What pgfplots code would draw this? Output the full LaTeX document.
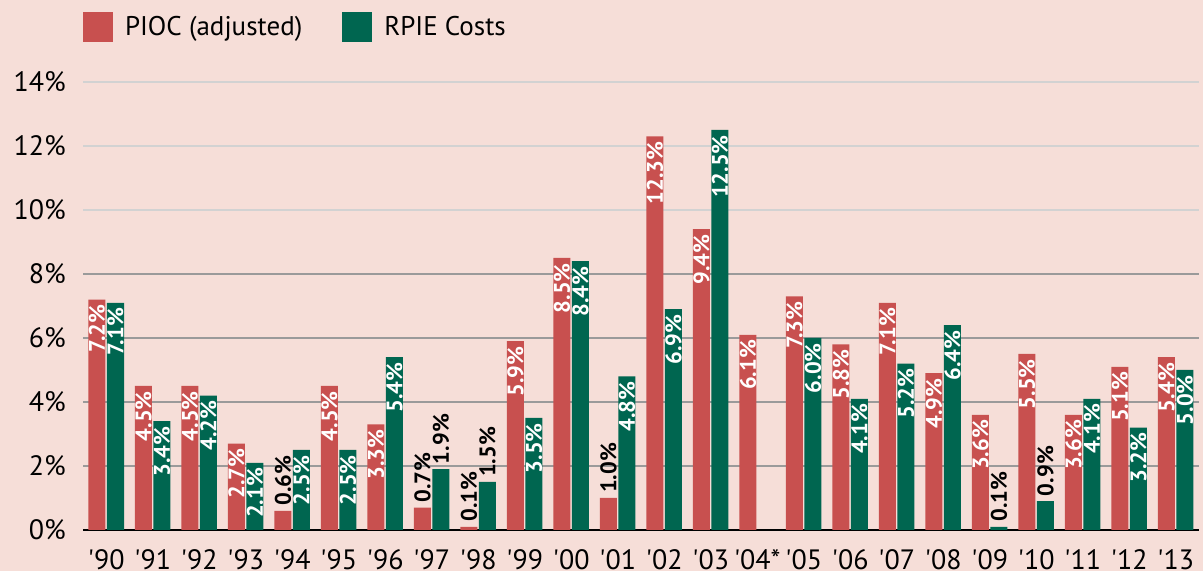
\documentclass[border=0pt]{standalone}
\usepackage{pgfplots}
\pgfplotsset{compat=1.18}
\usepackage{fontspec}
\setmainfont{PT Sans}
\definecolor{bg}{HTML}{F6DED8}
\definecolor{piocred}{HTML}{C8504F}
\definecolor{rpiegreen}{HTML}{006650}
\definecolor{griddark}{HTML}{9A9A9A}
\definecolor{gridlight}{HTML}{D2D2D2}
\pgfplotsset{
  layers/barsbelowaxis/.define layer set={axis background,axis grid,main,axis ticks,axis lines,axis tick labels,axis descriptions,axis foreground}{},
  sqlegend/.style={legend image code/.code={\fill[##1,draw=none] (0bp,-15bp) rectangle (30bp,15bp);}},
}
\begin{document}
\begin{tikzpicture}
\fill[bg] (-83bp,-41bp) rectangle (1120bp,530bp);
\begin{axis}[
  set layers=barsbelowaxis,
  at={(0,0)}, anchor=south west,
  scale only axis, width=1116bp, height=448bp,
  xmin=-0.5, xmax=23.5, ymin=0, ymax=14,
  ybar=1.5bp, bar width=17bp,
  axis lines*=left,
  y axis line style={draw=none},
  x axis line style={line width=2.6bp, black},
  major tick style={draw=none}, major tick length=0pt,
  xtick={0,...,23},
  xticklabels={\textquotesingle 90,\textquotesingle 91,\textquotesingle 92,\textquotesingle 93,\textquotesingle 94,\textquotesingle 95,\textquotesingle 96,\textquotesingle 97,\textquotesingle 98,\textquotesingle 99,\textquotesingle 00,\textquotesingle 01,\textquotesingle 02,\textquotesingle 03,\textquotesingle 04*,\textquotesingle 05,\textquotesingle 06,\textquotesingle 07,\textquotesingle 08,\textquotesingle 09,\textquotesingle 10,\textquotesingle 11,\textquotesingle 12,\textquotesingle 13},
  ytick={0,2,4,6,8},
  extra y ticks={10,12,14},
  ymajorgrids,
  grid style={griddark, line width=1.6bp},
  extra y tick style={grid=major, grid style={gridlight, line width=1.6bp}, major tick style={draw=none}},
  yticklabel={\pgfmathprintnumber[assume math mode=true]{\tick}\%},
  tick label style={font=\fontsize{28bp}{30bp}\selectfont},
  yticklabel style={inner sep=0pt, xshift=-17bp},
  xticklabel style={inner sep=0pt, yshift=-19bp},
  visualization depends on={rawy \as \rawy},
  nodes near coords={\pgfmathprintnumber[fixed,fixed zerofill,precision=1,assume math mode=true]{\pgfplotspointmeta}\%},
  every node near coord/.append style={
    rotate=90, font=\bfseries\fontsize{22.5bp}{25bp}\selectfont, inner sep=5bp,
    /utils/exec={\pgfmathtruncatemacro\lowbar{\rawy<2}\ifnum\lowbar=1 \def\myanchor{west}\def\mycol{black}\else\def\myanchor{east}\def\mycol{white}\fi},
    anchor=\myanchor, text=\mycol},
  legend style={at={(axis description cs:0,1)}, anchor=west, yshift=55bp,
    draw=none, fill=none, inner sep=0pt, outer sep=0pt,
    nodes={inner sep=0pt, font=\fontsize{27bp}{30bp}\selectfont},
    /tikz/every odd column/.append style={column sep=12bp},
    /tikz/every even column/.append style={column sep=40bp}},
  legend columns=2,
  legend cell align=left,
]
\addplot[fill=piocred, draw=none, sqlegend] coordinates {
(0,7.2) (1,4.5) (2,4.5) (3,2.7) (4,0.6) (5,4.5) (6,3.3) (7,0.7) (8,0.1) (9,5.9) (10,8.5) (11,1.0)
(12,12.3) (13,9.4) (14,6.1) (15,7.3) (16,5.8) (17,7.1) (18,4.9) (19,3.6) (20,5.5) (21,3.6) (22,5.1) (23,5.4)};
\addlegendentry{PIOC (adjusted)}
\addplot[fill=rpiegreen, draw=none, sqlegend] coordinates {
(0,7.1) (1,3.4) (2,4.2) (3,2.1) (4,2.5) (5,2.5) (6,5.4) (7,1.9) (8,1.5) (9,3.5) (10,8.4) (11,4.8)
(12,6.9) (13,12.5) (15,6.0) (16,4.1) (17,5.2) (18,6.4) (19,0.1) (20,0.9) (21,4.1) (22,3.2) (23,5.0)};
\addlegendentry{RPIE Costs}
\end{axis}
\pgfresetboundingbox
\useasboundingbox (-83bp,-41bp) rectangle (1120bp,530bp);
\end{tikzpicture}
\end{document}
